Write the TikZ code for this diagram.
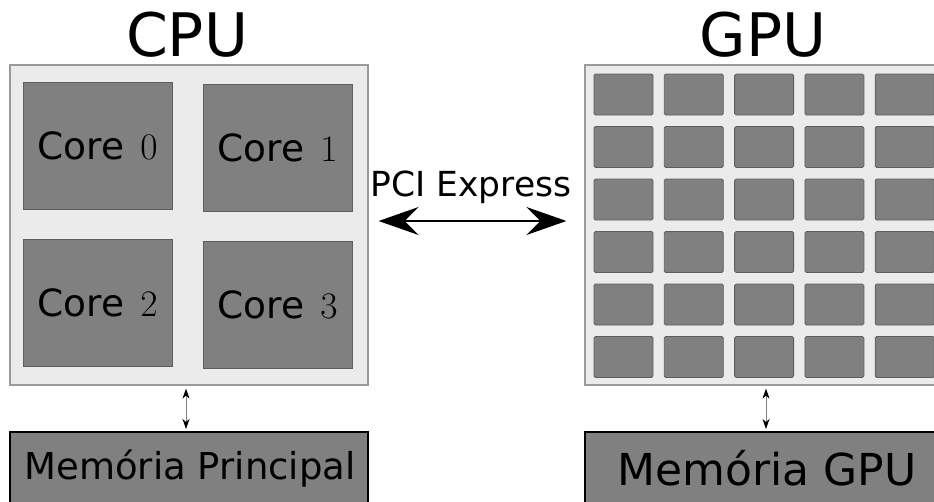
\RequirePackage{fix-cm}
\documentclass[tikz,border=0pt]{standalone}
\usepackage{fontspec}
\setmainfont{DejaVu Sans}
\usetikzlibrary{arrows.meta}

\definecolor{chipfill}{HTML}{EBEBEB}
\definecolor{chipedge}{HTML}{9A9A9A}
\definecolor{unitfill}{HTML}{808080}
\definecolor{unitedge}{HTML}{5E5E5E}

\newcommand{\corelabel}[1]{Core\hspace{16pt}$#1$}

\tikzset{
  chip/.style={draw=chipedge, fill=chipfill, line width=1.2pt, inner sep=0pt},
  coreunit/.style={draw=unitedge, fill=unitfill, line width=0.8pt, inner sep=0pt,
    minimum width=149pt, minimum height=127pt, font=\fontsize{37.5}{40}\selectfont},
  gpucell/.style={draw=unitedge, fill=unitfill, line width=0.8pt, rounded corners=1.5pt,
    inner sep=0pt, minimum width=59pt, minimum height=41pt},
  membox/.style={draw=black, fill=unitfill, line width=2pt, inner sep=0pt},
  title/.style={anchor=base, font=\fontsize{60}{66}\selectfont},
  busarrow/.style={draw=black, line width=2pt,
    {Stealth[length=40pt,width=28pt,inset=14pt]}-{Stealth[length=40pt,width=28pt,inset=14pt]}},
  memarrow/.style={draw=black!50, line width=0.9pt,
    {Stealth[length=10pt,width=7pt,inset=3pt,color=black]}-{Stealth[length=10pt,width=7pt,inset=3pt,color=black]}}
}

\begin{document}
\begin{tikzpicture}[x=1pt, y=-1pt]
  \path[use as bounding box, clip] (0,0) rectangle (934,501);

  % titles
  \node[title] (cputitle) at (187,56) {CPU};
  \node[title] (gputitle) at (763,56) {GPU};

  % CPU die with four cores
  \node[chip, minimum width=358pt, minimum height=320pt] (cpu) at (189,225) {};
  \node[coreunit] (core0) at (97.5,145.5) {\corelabel{0}};
  \node[coreunit] (core1) at (277.5,147.5) {\corelabel{1}};
  \node[coreunit] (core2) at (97.5,303) {\corelabel{2}};
  \node[coreunit] (core3) at (277.5,304.5) {\corelabel{3}};

  % GPU die with a grid of cores
  \node[chip, minimum width=362pt, minimum height=320pt] (gpu) at (766,225) {};
  \foreach \c in {0,...,4}{
    \foreach \r in {0,...,5}{
      \node[gpucell] (g\c\r) at ({623.5+70.3*\c},{94.5+52.5*\r}) {};
    }
  }

  % memories
  \node[membox, minimum width=358pt, minimum height=90pt] (memp) at (189,477) {};
  \node[anchor=base, font=\fontsize{37}{40}\selectfont] (mempl) at (190,479) {Memória Principal};
  \node[membox, minimum width=362pt, minimum height=90pt] (memg) at (766,477) {};
  \node[anchor=base, font=\fontsize{44}{48}\selectfont] (memgl) at (767,485) {Memória GPU};

  % PCI Express bus
  \node[anchor=base, font=\fontsize{34.5}{38}\selectfont] (pci) at (471,196) {PCI Express};
  \draw[busarrow, shorten <=10pt, shorten >=18pt]
    ([yshift=4pt]cpu.east) -- ([yshift=4pt]gpu.west);

  % memory links
  \draw[memarrow, shorten <=3pt, shorten >=2pt] ([xshift=-3pt]cpu.south) -- ([xshift=-3pt]memp.north);
  \draw[memarrow, shorten <=3pt, shorten >=2pt] (gpu.south) -- (memg.north);
\end{tikzpicture}
\end{document}
